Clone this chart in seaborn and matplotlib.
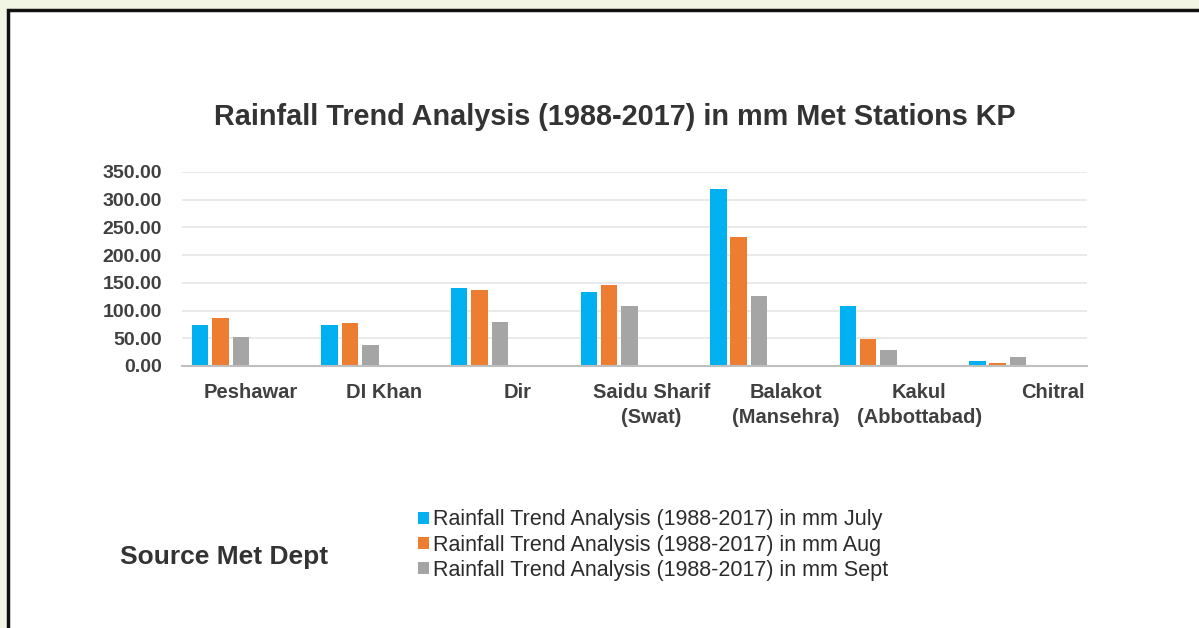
import numpy as np
import pandas as pd
import matplotlib
matplotlib.use("Agg")
import matplotlib.pyplot as plt
from matplotlib.patches import Rectangle
import seaborn as sns

stations = ["Peshawar", "DI Khan", "Dir", "Saidu Sharif\n(Swat)",
            "Balakot\n(Mansehra)", "Kakul\n(Abbottabad)", "Chitral"]
july = [74.5, 74.5, 140, 133, 319, 108, 8.5]
aug = [87, 77, 138, 147, 232, 48, 5]
sept = [53, 37, 79, 109, 126, 29, 16]
series_names = ["Rainfall Trend Analysis (1988-2017) in mm July",
                "Rainfall Trend Analysis (1988-2017) in mm Aug",
                "Rainfall Trend Analysis (1988-2017) in mm Sept"]
yticks = [0, 50, 100, 150, 200, 250, 300, 350]

df = pd.DataFrame({
    "station": stations * 3,
    "value": july + aug + sept,
    "series": [series_names[0]] * 7 + [series_names[1]] * 7 + [series_names[2]] * 7,
})

sns.set_theme(style="white")
plt.rcParams["font.family"] = ["Liberation Sans", "DejaVu Sans"]
TXT = "#404040"

fig = plt.figure(figsize=(11.99, 6.28), dpi=100)
fig.set_facecolor("#F1F5E4")
fig.add_artist(Rectangle((8 / 1199, -0.1), 1.2, 1.1 - 10 / 628,
                         transform=fig.transFigure, facecolor="white",
                         edgecolor="#111111", linewidth=2.5, zorder=-10))

ax = fig.add_axes([182 / 1199, 1 - 366 / 628, (1087 - 182) / 1199, (366 - 172) / 628])
ax.set_facecolor("none")

palette = ["#00B0F0", "#ED7D31", "#A5A5A5"]
sns.barplot(data=df, x="station", y="value", hue="series", hue_order=series_names,
            order=stations, palette=palette, width=0.47, gap=0.19,
            saturation=1, linewidth=0, ax=ax, legend=True)

ax.set_ylim(0, 350)
ax.set_xlim(-0.297, 6.69)
ax.set_yticks(yticks)
ax.set_yticklabels([f"{v:.2f}" for v in yticks], fontsize=14, fontweight="bold", color=TXT)
ax.set_xticks(np.arange(7) * 1.033 + 0.23)
ax.set_xticklabels(stations, fontsize=14.5, fontweight="bold", color=TXT, linespacing=1.45)
ax.tick_params(axis="y", length=0, pad=14.5)
ax.tick_params(axis="x", length=0, pad=12)
ax.set_xlabel("")
ax.set_ylabel("")
ax.yaxis.grid(True, color="#E6E6E6", linewidth=1.2)
ax.set_axisbelow(True)
for s in ["top", "right", "left"]:
    ax.spines[s].set_visible(False)
ax.spines["bottom"].set_color("#BFBFBF")
ax.spines["bottom"].set_linewidth(1.5)

handles, labels = ax.get_legend_handles_labels()
ax.get_legend().remove()
fig.legend(handles, labels, loc="center left",
           bbox_to_anchor=(407 / 1199, 1 - 545 / 628), bbox_transform=fig.transFigure,
           frameon=False, fontsize=15.5, handlelength=0.5, handleheight=0.5,
           handletextpad=0.2, labelspacing=0.19, borderpad=0, labelcolor="#2B2B2B")

fig.text(615 / 1199, 1 - 117 / 628, "Rainfall Trend Analysis (1988-2017) in mm Met Stations KP",
         ha="center", va="center", fontsize=20.8, fontweight="bold", color="#333333")
fig.text(120 / 1199, 1 - 557 / 628, "Source Met Dept", ha="left", va="center",
         fontsize=19, fontweight="bold", color="#333333")

fig.savefig("out.png", dpi=100, facecolor=fig.get_facecolor())
